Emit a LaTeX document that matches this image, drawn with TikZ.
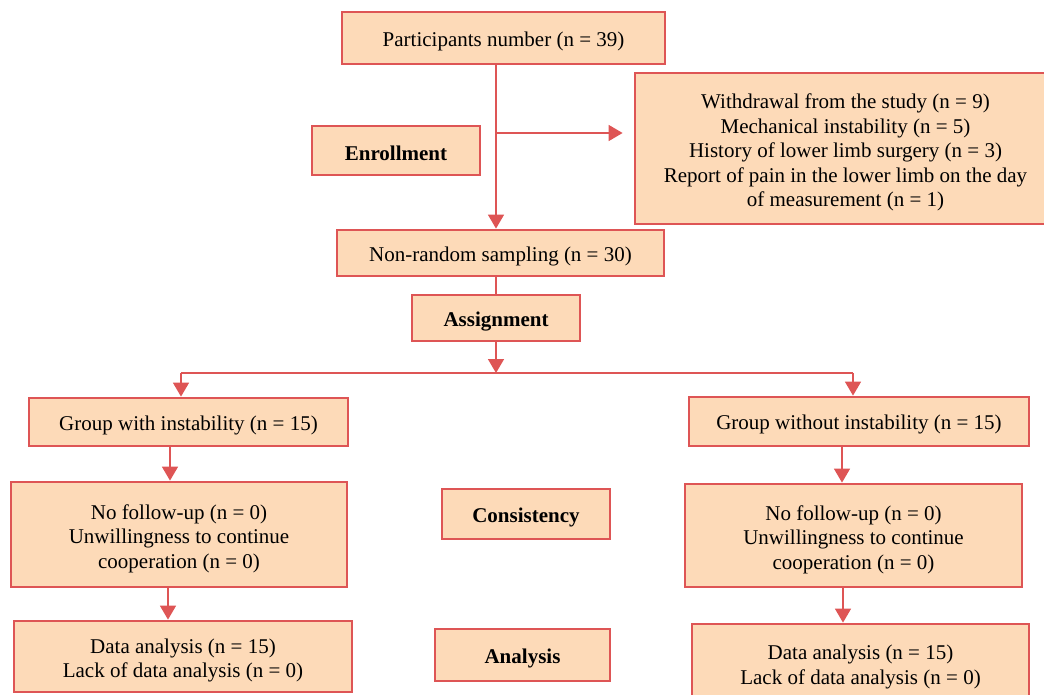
\documentclass[tikz,border=0pt]{standalone}
\usepackage{fontspec}
\setmainfont{Liberation Serif}
\usetikzlibrary{arrows.meta}
\definecolor{boxfill}{HTML}{FDDAB8}
\definecolor{boxline}{HTML}{DE5555}
\newcommand\firstlinestrut{\rule{0pt}{23pt}}
\begin{document}
\begin{tikzpicture}[x=1pt,y=-1pt,
  box/.style={draw=boxline, fill=boxfill, line width=2.8pt, align=center,
    font=\fontsize{21}{24.5}\selectfont, inner sep=0pt,
    execute at begin node={\rule{0pt}{21pt}}},
  lbl/.style={box, font=\fontsize{21}{24.5}\selectfont\bfseries},
  conn/.style={draw=boxline, line width=1.6pt},
  arr/.style={conn, -{Triangle[width=16pt,length=14pt]}}]
\useasboundingbox (0,0) rectangle (1044,695);

\node[box, minimum width=323pt, minimum height=52pt] (p) at (503.5,38) {Participants number (n = 39)};
\node[box, minimum width=421pt, minimum height=151pt] (side) at (845.5,148.5)
  {\firstlinestrut Withdrawal from the study (n = 9)\\Mechanical instability (n = 5)\\History of lower limb surgery (n = 3)\\Report of pain in the lower limb on the day\\of measurement (n = 1)};
\node[lbl, minimum width=168pt, minimum height=49pt] (enr) at (396,150.5) {Enrollment};
\node[box, minimum width=327pt, minimum height=46pt] (n) at (500.5,253) {Non-random sampling (n = 30)};
\node[lbl, minimum width=168pt, minimum height=46pt] (a) at (496,318) {Assignment};
\node[box, minimum width=319pt, minimum height=48pt] (gl) at (188.5,422) {Group with instability (n = 15)};
\node[box, minimum width=340pt, minimum height=49pt] (gr) at (859,421.5) {Group without instability (n = 15)};
\node[box, minimum width=336pt, minimum height=105pt] (nl) at (179,534.5) {\firstlinestrut No follow-up (n = 0)\\Unwillingness to continue\\cooperation (n = 0)};
\node[lbl, minimum width=168pt, minimum height=50pt] (cons) at (526,514) {Consistency};
\node[box, minimum width=337pt, minimum height=103pt] (nr) at (853.5,535.5) {\firstlinestrut No follow-up (n = 0)\\Unwillingness to continue\\cooperation (n = 0)};
\node[box, minimum width=338pt, minimum height=71pt] (dl) at (183,656.5) {\firstlinestrut Data analysis (n = 15)\\Lack of data analysis (n = 0)};
\node[lbl, minimum width=175pt, minimum height=52pt] (an) at (522.5,655) {Analysis};
\node[box, minimum width=337pt, minimum height=78pt] (dr) at (860.5,663) {\firstlinestrut Data analysis (n = 15)\\Lack of data analysis (n = 0)};

\coordinate (br) at (496,133);
\coordinate (split) at (496,373);
\coordinate (hl) at (181,373);
\coordinate (hr) at (853,373);

\draw[arr] (a.north |- p.south) -- (a.north |- n.north);
\draw[arr, shorten >=11pt] (br) -- (br -| side.west);
\draw[conn] (a.north |- n.south) -- (a.north);
\draw[arr] (a.south) -- (split);
\draw[conn] (hl) -- (hr);
\draw[arr] (hl) -- (hl |- gl.north);
\draw[arr] (hr) -- (hr |- gr.north);
\draw[arr] ([xshift=-18.5pt]gl.south) -- ([xshift=-18.5pt]gl.south |- nl.north);
\draw[arr] ([xshift=-11pt]nl.south) -- ([xshift=-11pt]nl.south |- dl.north);
\draw[arr] ([xshift=-17pt]gr.south) -- ([xshift=-17pt]gr.south |- nr.north);
\draw[arr] ([xshift=-10.5pt]nr.south) -- ([xshift=-10.5pt]nr.south |- dr.north);
\end{tikzpicture}
\end{document}
